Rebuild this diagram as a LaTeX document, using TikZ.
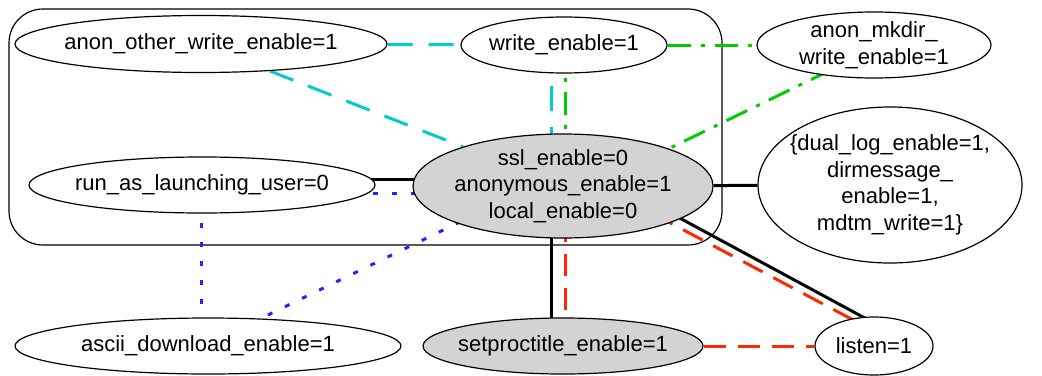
\documentclass[tikz,border=0pt]{standalone}
\usepackage{fontspec}
\setmainfont{Liberation Sans}
\usetikzlibrary{shapes.geometric,calc,backgrounds}
\definecolor{ecyan}{RGB}{0,204,204}
\definecolor{egreen}{RGB}{0,204,0}
\definecolor{eblue}{RGB}{25,40,255}
\definecolor{ered}{RGB}{255,40,0}
\definecolor{ngrey}{RGB}{211,211,211}
\begin{document}
\begin{tikzpicture}[x=0.5pt,y=-0.5pt,
  ell/.style={ellipse,draw,line width=0.6pt,fill=white,inner sep=0pt},
  grey/.style={fill=ngrey},
  lbl/.style={font=\fontsize{11}{13.25}\selectfont,align=center,inner sep=0pt},
  cluster/.style={draw,line width=0.6pt,rounded corners=17pt},
  cyanl/.style={draw=ecyan,line width=1.5pt,dash pattern=on 12.5pt off 8pt},
  greenl/.style={draw=egreen,line width=1.5pt,dash pattern=on 11.5pt off 5pt on 2pt off 5pt},
  bluel/.style={draw=eblue,line width=1.5pt,dash pattern=on 2.5pt off 7pt},
  redl/.style={draw=ered,line width=1.5pt,dash pattern=on 11pt off 6pt},
  blackl/.style={draw=black,line width=1.5pt}]
\useasboundingbox (0,0) rectangle (1042,375);
\node[ell,minimum width=186pt,minimum height=28.5pt,label={[lbl]center:anon\_other\_write\_enable=1}] (aow) at (201,44) {};
\node[ell,minimum width=103pt,minimum height=28pt,label={[lbl]center:write\_enable=1}] (we) at (564,45) {};
\node[ell,minimum width=117pt,minimum height=33pt,label={[lbl]center:anon\_mkdir\_\\write\_enable=1}] (mk) at (874,45) {};
\node[ell,minimum width=173pt,minimum height=28pt,label={[lbl]center:run\_as\_launching\_user=0}] (ru) at (202,185) {};
\node[ell,grey,minimum width=150pt,minimum height=52pt,label={[lbl]center:ssl\_enable=0\\anonymous\_enable=1\\local\_enable=0}] (ssl) at (563,186) {};
\node[ell,minimum width=132pt,minimum height=78pt,label={[lbl]center:\{dual\_log\_enable=1,\\dirmessage\_\\enable=1,\\mdtm\_write=1\}}] (dl) at (890,185) {};
\node[ell,minimum width=193pt,minimum height=28pt,label={[lbl]center:ascii\_download\_enable=1}] (asc) at (208,346) {};
\node[ell,grey,minimum width=140pt,minimum height=28pt,label={[lbl]center:setproctitle\_enable=1}] (sp) at (563,346) {};
\node[ell,minimum width=59pt,minimum height=29pt,label={[lbl]center:listen=1}] (li) at (874,346) {};
\begin{scope}[on background layer]
\draw[cluster] (9,9) rectangle (722,245);
\draw[cyanl] (aow) -- (we);
\draw[cyanl] (aow) -- (ssl);
\draw[cyanl] ($(we.center)+(-13,0)$) -- ($(ssl.center)+(-12,0)$);
\draw[greenl] ($(we.center)+(1,0)$) -- ($(ssl.center)+(2,0)$);
\draw[greenl] (we) -- (mk);
\draw[greenl] ($(mk.center)+(0,4)$) -- ($(ssl.center)+(0,14)$);
\draw[blackl] ($(ru.center)+(0,-6)$) -- ($(ssl.center)+(0,-7)$);
\draw[bluel] ($(ru.center)+(0,8)$) -- ($(ssl.center)+(0,7)$);
\draw[bluel] ($(ru.center)+(-1,0)$) -- ($(asc.center)+(-7,0)$);
\draw[bluel] ($(ssl.center)+(0,-14)$) -- ($(asc.center)+(0,-2)$);
\draw[blackl] (ssl) -- (dl);
\draw[blackl] ($(ssl.center)+(-12,0)$) -- ($(sp.center)+(-12,0)$);
\draw[redl] ($(ssl.center)+(2,0)$) -- ($(sp.center)+(2,0)$);
\draw[blackl] ($(ssl.center)+(0,-31)$) -- ($(li.center)+(0,-23)$);
\draw[redl] ($(ssl.center)+(0,-20)$) -- ($(li.center)+(0,-15)$);
\draw[redl] (sp) -- (li);
\end{scope}
\end{tikzpicture}
\end{document}
